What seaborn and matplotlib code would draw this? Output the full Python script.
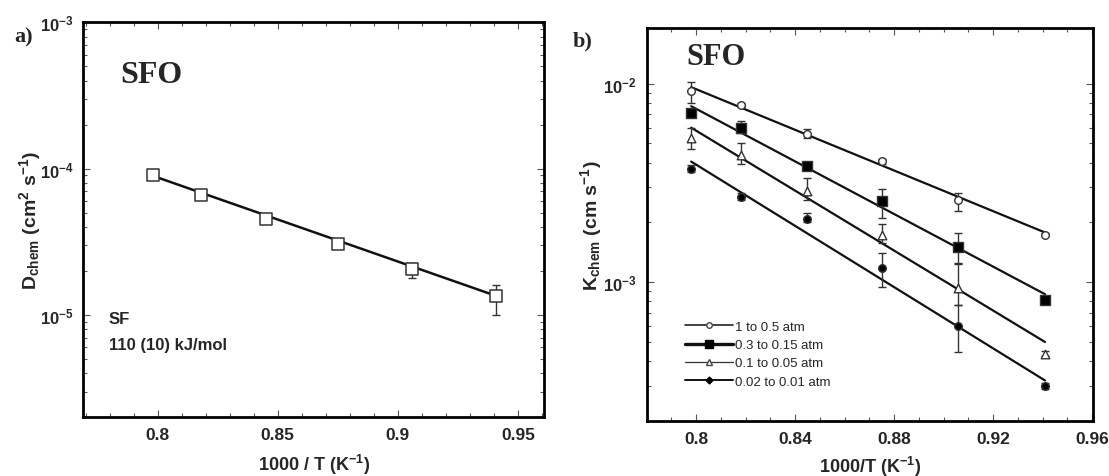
import numpy as np
import pandas as pd
import matplotlib
matplotlib.use('Agg')
import matplotlib.pyplot as plt
from matplotlib.lines import Line2D
from matplotlib.ticker import LogLocator, NullFormatter, MultipleLocator
import seaborn as sns

# --- data ---
inv_T = [0.798, 0.818, 0.845, 0.875, 0.906, 0.941]

# panel a) D_chem, SF
d_chem = [9.0e-5, 6.6e-5, 4.5e-5, 3.05e-5, 2.06e-5, 1.35e-5]
d_lo = [8.5e-5, 6.3e-5, 4.3e-5, 2.95e-5, 1.80e-5, 1.00e-5]
d_hi = [9.5e-5, 6.9e-5, 4.7e-5, 3.15e-5, 2.27e-5, 1.61e-5]
fit_x_a = [0.800, 0.941]
fit_d = [8.7e-5, 1.35e-5]

# panel b) K_chem for four pO2 steps
labels_b = ['1 to 0.5 atm', '0.3 to 0.15 atm', '0.1 to 0.05 atm', '0.02 to 0.01 atm']
k_1 = [9.15e-3, 7.8e-3, 5.6e-3, 4.06e-3, 2.60e-3, 1.73e-3]
k_1_lo = [8.0e-3, 7.6e-3, 5.3e-3, 3.95e-3, 2.29e-3, 1.70e-3]
k_1_hi = [1.02e-2, 8.0e-3, 5.9e-3, 4.15e-3, 2.82e-3, 1.77e-3]
k_2 = [7.1e-3, 5.97e-3, 3.86e-3, 2.55e-3, 1.51e-3, 8.1e-4]
k_2_lo = [7.0e-3, 5.63e-3, 3.80e-3, 2.11e-3, 1.25e-3, 7.8e-4]
k_2_hi = [7.2e-3, 6.45e-3, 3.95e-3, 2.94e-3, 1.77e-3, 8.4e-4]
k_3 = [5.32e-3, 4.37e-3, 2.89e-3, 1.73e-3, 9.3e-4, 4.37e-4]
k_3_lo = [4.7e-3, 3.95e-3, 2.60e-3, 1.57e-3, 7.7e-4, 4.25e-4]
k_3_hi = [6.0e-3, 5.03e-3, 3.35e-3, 1.96e-3, 1.23e-3, 4.5e-4]
k_4 = [3.73e-3, 2.70e-3, 2.07e-3, 1.18e-3, 6.0e-4, 3.0e-4]
k_4_lo = [3.6e-3, 2.6e-3, 2.0e-3, 9.5e-4, 4.45e-4, 2.9e-4]
k_4_hi = [3.9e-3, 2.8e-3, 2.22e-3, 1.40e-3, 7.7e-4, 3.1e-4]
fit_x_b = [0.798, 0.941]
fit_k = [[9.6e-3, 1.78e-3], [7.7e-3, 8.7e-4], [6.0e-3, 5.0e-4], [4.05e-3, 3.2e-4]]

xticks_a = [0.8, 0.85, 0.9, 0.95]
xticks_b = [0.8, 0.84, 0.88, 0.92, 0.96]

sns.set_style('ticks')
plt.rcParams['font.family'] = ['Liberation Sans', 'DejaVu Sans']
plt.rcParams['mathtext.fontset'] = 'custom'
plt.rcParams['mathtext.rm'] = 'Liberation Sans:bold'
plt.rcParams['mathtext.bf'] = 'Liberation Sans:bold'
plt.rcParams['mathtext.it'] = 'Liberation Sans:bold'
plt.rcParams['mathtext.default'] = 'bf'

fig = plt.figure(figsize=(11.09, 4.77), dpi=100)
ax_a = fig.add_axes([0.0751, 0.1231, 0.4157, 0.8279])
ax_b = fig.add_axes([0.5831, 0.1153, 0.4027, 0.8233])


def style_axis(ax, xticks, xlim, ylim, yticks):
    ax.set_yscale('log')
    ax.set_xlim(*xlim)
    ax.set_ylim(*ylim)
    for sp in ax.spines.values():
        sp.set_visible(True)
        sp.set_linewidth(2.0)
        sp.set_color('black')
    ax.set_xticks(xticks)
    ax.set_xticklabels([f'{t:g}' for t in xticks], fontweight='bold', fontsize=12.5)
    ax.xaxis.set_minor_locator(MultipleLocator(0.01))
    ax.set_yticks(yticks)
    ax.set_yticklabels([r'$10^{%d}$' % int(np.log10(t)) for t in yticks], fontsize=12)
    ax.yaxis.set_minor_locator(LogLocator(base=10, subs=np.arange(2, 10)))
    ax.yaxis.set_minor_formatter(NullFormatter())
    ax.tick_params(which='both', direction='in', top=True, right=True,
                   color='#555555', width=0.8)
    ax.tick_params(which='major', length=5, pad=7)
    ax.tick_params(which='minor', length=3)


# ---------- panel a ----------
df_a = pd.DataFrame({'x': inv_T, 'D': d_chem})
sns.lineplot(x=fit_x_a, y=fit_d, ax=ax_a, color='#111111', lw=1.8)
ax_a.errorbar(inv_T, d_chem,
              yerr=[np.array(d_chem) - np.array(d_lo), np.array(d_hi) - np.array(d_chem)],
              fmt='none', ecolor='#333333', elinewidth=1, capsize=3)
sns.scatterplot(data=df_a, x='x', y='D', ax=ax_a, marker='s', s=65,
                facecolor='white', edgecolor='#333333', linewidth=1.1, zorder=5)
style_axis(ax_a, xticks_a, (0.769, 0.961), (2e-6, 1e-3), [1e-5, 1e-4, 1e-3])
ax_a.set_xlabel(r'1000 / T (K$^{-1}$)', fontsize=13, fontweight='bold', labelpad=7)
ax_a.set_ylabel(r'D$_{chem}$ (cm$^2$ s$^{-1}$)', fontsize=14, fontweight='bold')
ax_a.yaxis.set_label_coords(-0.088, 0.5)
ax_a.text(0.08, 0.869, 'SFO', transform=ax_a.transAxes, fontsize=23,
          fontweight='bold', family='Liberation Serif', ha='left', va='center')
ax_a.text(0.055, 0.25, 'SF', transform=ax_a.transAxes, fontsize=12,
          fontweight='bold', ha='left', va='center')
ax_a.text(0.055, 0.185, '110 (10) kJ/mol', transform=ax_a.transAxes, fontsize=12,
          fontweight='bold', ha='left', va='center')
fig.text(0.021, 0.922, 'a)', fontsize=16, fontweight='bold', family='Liberation Serif',
         ha='center', va='center')

# ---------- panel b ----------
series_b = [k_1, k_2, k_3, k_4]
lo_b = [k_1_lo, k_2_lo, k_3_lo, k_4_lo]
hi_b = [k_1_hi, k_2_hi, k_3_hi, k_4_hi]
markers_b = ['o', 's', '^', 'o']
faces_b = ['white', 'black', 'white', 'black']
sizes_b = [30, 55, 38, 30]

for vals, lo, hi, fit, mk, fc, sz in zip(series_b, lo_b, hi_b, fit_k,
                                       markers_b, faces_b, sizes_b):
    sns.lineplot(x=fit_x_b, y=fit, ax=ax_b, color='#111111', lw=1.6)
    v = np.array(vals)
    ax_b.errorbar(inv_T, vals, yerr=[v - np.array(lo), np.array(hi) - v],
                  fmt='none', ecolor='#333333', elinewidth=1, capsize=3)
    sns.scatterplot(x=inv_T, y=vals, ax=ax_b, marker=mk, s=sz, facecolor=fc,
                    edgecolor='#333333', linewidth=1.0, zorder=5)

style_axis(ax_b, xticks_b, (0.78, 0.9605), (2e-4, 1.9e-2), [1e-3, 1e-2])
ax_b.set_xlabel(r'1000/T (K$^{-1}$)', fontsize=13, fontweight='bold', labelpad=6)
ax_b.set_ylabel(r'K$_{chem}$ (cm s$^{-1}$)', fontsize=14, fontweight='bold')
ax_b.yaxis.set_label_coords(-0.096, 0.5)
ax_b.text(0.09, 0.929, 'SFO', transform=ax_b.transAxes, fontsize=22,
          fontweight='bold', family='Liberation Serif', ha='left', va='center')
fig.text(0.525, 0.912, 'b)', fontsize=16, fontweight='bold', family='Liberation Serif',
         ha='center', va='center')

handles = [
    Line2D([], [], color='#222222', lw=1.2, marker='o', ms=4, mfc='white', mec='#444444'),
    Line2D([], [], color='#111111', lw=2.4, marker='s', ms=6, mfc='black', mec='black'),
    Line2D([], [], color='#333333', lw=0.9, marker='^', ms=5, mfc='white', mec='#444444'),
    Line2D([], [], color='#111111', lw=1.4, marker='D', ms=3.5, mfc='black', mec='black'),
]
ax_b.legend(handles, labels_b, loc='upper left', bbox_to_anchor=(0.085, 0.255),
            frameon=False, fontsize=9.5, handlelength=3.7, handletextpad=0.15,
            labelspacing=0.45, borderpad=0, borderaxespad=0)

fig.savefig('out.png', dpi=100)
